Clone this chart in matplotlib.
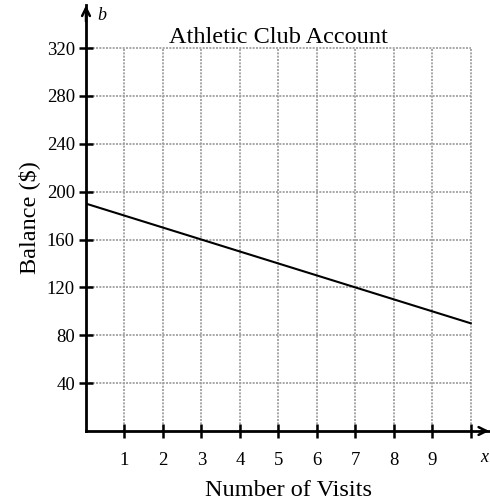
import matplotlib.pyplot as plt

plt.rcParams['font.family'] = ['Liberation Serif', 'DejaVu Serif']

visits = [0, 10]
balance = [190, 90]
x_ticks = [1, 2, 3, 4, 5, 6, 7, 8, 9, 10]
x_tick_labels = ['1', '2', '3', '4', '5', '6', '7', '8', '9', '']
y_ticks = [40, 80, 120, 160, 200, 240, 280, 320]
y_tick_labels = ['40', '80', '120', '160', '200', '240', '280', '320']

fig = plt.figure(figsize=(4.9, 5.03), dpi=100)
ax = fig.add_axes([86 / 490, 72 / 503, 404 / 490, 426 / 503])
ax.set_xlim(0, 10.5)
ax.set_ylim(0, 356)

# grid
for x in x_ticks:
    ax.plot([x, x], [0, 320], color='#999999', lw=1.2, ls=(0, (1.2, 0.8)), zorder=1)
for y in y_ticks:
    ax.plot([0, 10], [y, y], color='#999999', lw=1.2, ls=(0, (1.2, 0.8)), zorder=1)

ax.plot(visits, balance, color='black', lw=1.5, zorder=3)

for s in ['top', 'right']:
    ax.spines[s].set_visible(False)
for s in ['left', 'bottom']:
    ax.spines[s].set_linewidth(2)
    ax.spines[s].set_zorder(4)

# arrows
ax.annotate('', xy=(10.55, 0), xytext=(10.2, 0),
            arrowprops=dict(arrowstyle='->', lw=1.8, color='black', mutation_scale=14),
            annotation_clip=False)
ax.annotate('', xy=(0, 358), xytext=(0, 340),
            arrowprops=dict(arrowstyle='->', lw=1.8, color='black', mutation_scale=14),
            annotation_clip=False)

ax.set_xticks(x_ticks)
ax.set_xticklabels(x_tick_labels)
ax.set_yticks(y_ticks)
ax.set_yticklabels(y_tick_labels)
ax.tick_params(axis='both', direction='inout', length=10, width=1.8, labelsize=13.5)
ax.tick_params(axis='x', pad=10)
ax.tick_params(axis='y', pad=3)

ax.text(5.0, 329, 'Athletic Club Account', ha='center', va='center', fontsize=17.5)
ax.text(0.3, 347, 'b', style='italic', ha='left', va='center', fontsize=13)
ax.text(10.25, -22, 'x', style='italic', ha='left', va='center', fontsize=13)

ax.set_xlabel('Number of Visits', fontsize=17.5, labelpad=8)
ax.set_ylabel('Balance ($)', fontsize=17.5, labelpad=5)

fig.savefig('out.png', dpi=100)
